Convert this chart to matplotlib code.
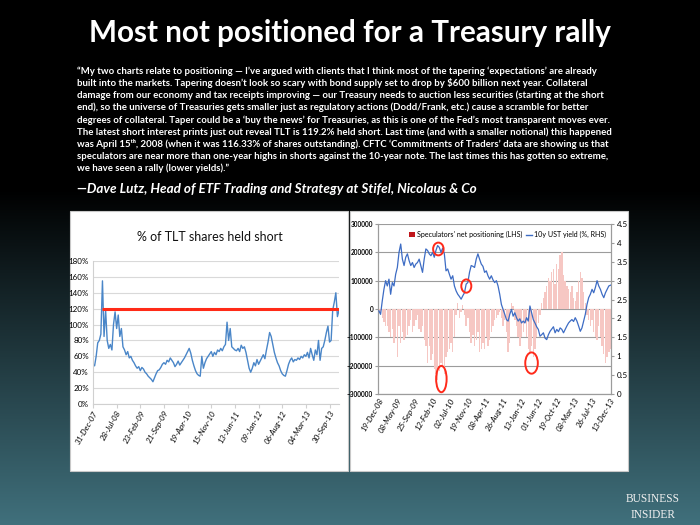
import numpy as np
import pandas as pd
import matplotlib
matplotlib.use("Agg")
import matplotlib.pyplot as plt
import matplotlib.dates as mdates
from matplotlib.patches import Rectangle, Ellipse, Patch
from matplotlib.lines import Line2D
from matplotlib.colors import LinearSegmentedColormap

# left chart: % of TLT shares held short (biweekly, from 31-Dec-07)
tlt_short = [50, 48, 60, 77, 80, 88, 155, 85, 118, 80, 70, 75, 68, 100, 116, 95, 112, 85, 95, 72,
             68, 62, 66, 58, 60, 55, 52, 48, 45, 47, 42, 46, 44, 40, 38, 35, 33, 31, 28, 33,
             38, 42, 43, 46, 50, 52, 50, 55, 53, 58, 55, 52, 47, 50, 54, 49, 52, 55, 58, 62,
             66, 70, 64, 55, 48, 42, 38, 36, 35, 60, 45, 52, 57, 60, 63, 66, 60, 65, 62, 68,
             66, 70, 67, 72, 75, 103, 80, 95, 72, 70, 68, 67, 70, 66, 74, 70, 72, 65, 55, 45,
             40, 45, 52, 48, 56, 50, 54, 58, 62, 57, 68, 78, 90, 85, 75, 65, 58, 52, 48, 42,
             38, 36, 35, 42, 50, 55, 58, 53, 56, 55, 58, 56, 60, 58, 62, 60, 65, 58, 70, 62,
             55, 68, 62, 80, 55, 70, 72, 80, 90, 98, 78, 80, 118, 128, 140, 110, 118]
tlt_level = 120
tlt_ticks = ["2007-12-31", "2008-07-28", "2009-02-23", "2009-09-21", "2010-04-19", "2010-11-15",
             "2011-06-13", "2012-01-09", "2012-08-06", "2013-03-04", "2013-09-30"]

# right chart: speculators' net positioning (LHS) and 10y UST yield (RHS)
positioning = [-10000, -20000, -30000, -45000, -60000, -60000, -80000, -100000, -70000, -120000,
               -100000, -170000, -60000, -120000, -80000, -110000, -100000, -90000, -60000, -40000,
               -80000, -60000, -40000, -20000, -70000, -80000, -60000, -110000, -130000, -190000,
               -130000, -180000, -160000, -210000, -230000, -250000, -220000, -190000, -200000, -230000,
               -170000, -150000, -140000, -120000, -150000, -100000, -20000, 20000, -30000, -10000,
               15000, -20000, -60000, -30000, -80000, -120000, -90000, -130000, -110000, -80000,
               -150000, -140000, -120000, -140000, -100000, -130000, -110000, -80000, -60000, -40000,
               -30000, -20000, -10000, -30000, -60000, -40000, -80000, -150000, -120000, 20000,
               10000, -40000, -60000, -100000, -130000, -100000, -80000, -50000, -100000, -140000,
               -150000, -130000, -170000, -140000, -100000, -50000, -20000, 20000, 40000, 60000,
               80000, 110000, 100000, 130000, 140000, 90000, 160000, 140000, 190000, 200000,
               120000, 100000, 80000, 70000, 60000, 80000, 40000, 30000, 60000, 100000,
               130000, 110000, 60000, 20000, -20000, -40000, -60000, -40000, -80000, -100000,
               -110000, -60000, -100000, -130000, -160000, -190000, -170000, -150000, -140000]
ust_yield = [2.20, 2.11, 2.46, 2.77, 3.00, 2.86, 3.04, 2.64, 2.95, 2.86, 3.17, 3.35, 3.75, 3.97, 3.57,
             3.40, 3.62, 3.71, 3.53, 3.40, 3.48, 3.35, 3.44, 3.48, 3.57, 3.40, 3.22, 3.57, 3.84, 3.80,
             3.71, 3.66, 3.75, 3.62, 3.80, 3.93, 3.88, 3.75, 3.86, 3.71, 3.26, 3.31, 3.17, 3.04, 3.13,
             2.86, 2.73, 2.64, 2.58, 2.51, 2.60, 2.68, 2.91, 2.95, 3.22, 3.40, 3.38, 3.35, 3.57, 3.71,
             3.57, 3.44, 3.38, 3.22, 3.26, 3.13, 3.04, 3.13, 3.02, 2.95, 3.00, 2.86, 2.64, 2.37, 2.24,
             2.11, 1.97, 1.93, 2.11, 2.24, 2.06, 2.15, 2.02, 1.93, 1.99, 1.88, 1.93, 1.88, 2.02, 1.93,
             2.33, 2.15, 1.97, 1.88, 1.78, 1.71, 1.53, 1.57, 1.62, 1.48, 1.44, 1.57, 1.66, 1.72, 1.78,
             1.62, 1.71, 1.65, 1.75, 1.71, 1.62, 1.71, 1.80, 1.88, 1.93, 1.97, 1.92, 2.02, 1.93, 1.80,
             1.66, 1.75, 1.93, 2.11, 2.37, 2.55, 2.64, 2.77, 2.68, 2.82, 3.00, 2.86, 2.77, 2.64, 2.55,
             2.68, 2.77, 2.86, 2.88]
cftc_ticks = ["2008-12-19", "2009-05-08", "2009-09-25", "2010-02-12", "2010-07-02", "2010-11-19",
              "2011-04-08", "2011-08-26", "2012-01-13", "2012-06-01", "2012-10-19", "2013-03-08",
              "2013-07-26", "2013-12-13"]

quote_lines = [
    "\u201cMy two charts relate to positioning \u2014 I\u2019ve argued with clients that I think most of the tapering \u2018expectations\u2019 are already",
    "built into the markets. Tapering doesn\u2019t look so scary with bond supply set to drop by $600 billion next year. Collateral",
    "damage from our economy and tax receipts improving \u2014 our Treasury needs to auction less securities (starting at the short",
    "end), so the universe of Treasuries gets smaller just as regulatory actions (Dodd/Frank, etc.) cause a scramble for better",
    "degrees of collateral. Taper could be a \u2018buy the news\u2019 for Treasuries, as this is one of the Fed\u2019s most transparent moves ever.",
    "The latest short interest prints just out reveal TLT is 119.2% held short. Last time (and with a smaller notional) this happened",
    "was April 15\u1d57\u02b0, 2008 (when it was 116.33% of shares outstanding). CFTC \u2018Commitments of Traders\u2019 data are showing us that",
    "speculators are near more than one-year highs in shorts against the 10-year note. The last times this has gotten so extreme,",
    "we have seen a rally (lower yields).\u201d",
]

txt = ["Lato", "DejaVu Sans"]

fig = plt.figure(figsize=(7, 5.25), dpi=100)

# slide background: black fading into teal
bg = fig.add_axes([0, 0, 1, 1], zorder=-10)
cmap = LinearSegmentedColormap.from_list("bg", [(0, "#000000"), (0.36, "#000000"), (1, "#40707c")])
bg.imshow(np.linspace(0, 1, 256).reshape(-1, 1), aspect="auto", cmap=cmap, extent=[0, 1, 0, 1])
bg.axis("off")

fig.text(0.5, 1 - 33 / 525, "Most not positioned for a Treasury rally", ha="center", va="center",
         color="white", fontsize=21.3, fontweight="bold", family=txt)
for i, line in enumerate(quote_lines):
    fig.text(77 / 700, 1 - (71 + 12.2 * i) / 525, line, va="center", color="white",
             fontsize=6.9, fontweight="bold", family=txt)
fig.text(77 / 700, 1 - 189 / 525, "\u2014Dave Lutz, Head of ETF Trading and Strategy at Stifel, Nicolaus & Co",
         va="center", color="white", fontsize=9.7, fontweight="bold", style="italic", family=txt)
fig.text(653 / 700, 1 - 499 / 525, "BUSINESS", ha="center", va="center", color="#f0f0f0",
         fontsize=8.3, family="Liberation Serif")
fig.text(653 / 700, 1 - 515 / 525, "INSIDER", ha="center", va="center", color="#f0f0f0",
         fontsize=8.3, family="Liberation Serif")

# white chart panels
for x0 in (70 / 700, 350 / 700):
    fig.add_artist(Rectangle((x0, 1 - 471 / 525), 278 / 700, 260 / 525, transform=fig.transFigure,
                             facecolor="white", edgecolor="#c8c8c8", lw=0.8, zorder=-5))

# ---- left chart
dates_l = pd.date_range("2007-12-31", periods=len(tlt_short), freq="14D")
ax1 = fig.add_axes([93 / 700, 1 - 404 / 525, 246 / 700, 143 / 525])
ax1.plot(dates_l, tlt_short, color="#4a86c8", lw=1)
ax1.hlines(tlt_level, dates_l[6], dates_l[-1], color="#ff2b18", lw=2.2, zorder=3)
ax1.set_ylim(0, 180)
ax1.set_yticks(range(0, 181, 20))
ax1.set_yticklabels([f"{v}%" for v in range(0, 181, 20)])
ax1.set_xlim(dates_l[0], dates_l[-1])
ax1.set_xticks(pd.to_datetime(tlt_ticks))
ax1.xaxis.set_major_formatter(mdates.DateFormatter("%d-%b-%y"))
ax1.grid(axis="y", color="#d9d9d9", lw=0.8)
ax1.set_axisbelow(True)
for s in ("top", "right"):
    ax1.spines[s].set_visible(False)
ax1.spines["left"].set_color("#d0d0d0")
ax1.spines["bottom"].set_color("#d0d0d0")
ax1.tick_params(axis="y", length=0, labelsize=5.8, pad=3)
ax1.tick_params(axis="x", length=3, color="#d0d0d0", labelsize=5.8, pad=1)
for lab in ax1.get_xticklabels() + ax1.get_yticklabels():
    lab.set_family(txt)
for lab in ax1.get_xticklabels():
    lab.set_rotation(60)
    lab.set_ha("right")
    lab.set_rotation_mode("anchor")
    lab.set_style("italic")
fig.text(210 / 700, 1 - 237 / 525, "% of TLT shares held short", ha="center", va="center",
         fontsize=9, family=txt, color="#111111")

# ---- right chart
dates_r = pd.date_range("2008-12-19", "2013-12-20", periods=len(ust_yield))
ax2 = fig.add_axes([378 / 700, 1 - 394 / 525, 233 / 700, 170 / 525])
ax2.bar(dates_r, positioning, width=11, color="#f6c7c3", edgecolor="none", zorder=2)
ax2.set_ylim(-300000, 300000)
ax2.set_yticks(range(-300000, 300001, 100000))
ax2.set_xlim(pd.Timestamp("2008-12-12"), pd.Timestamp("2013-12-24"))
ax2.set_xticks(pd.to_datetime(cftc_ticks))
ax2.xaxis.set_major_formatter(mdates.DateFormatter("%d-%b-%y"))
ax2.grid(axis="y", color="#9c9c9c", lw=0.8)
ax2.set_axisbelow(True)
ax2.spines["top"].set_visible(False)
for s in ("left", "right", "bottom"):
    ax2.spines[s].set_color("#9c9c9c")
ax2.tick_params(axis="y", length=2, color="#9c9c9c", labelsize=4.7, pad=1.5)
ax2.tick_params(axis="x", length=0, labelsize=5.8, pad=2)

ax3 = ax2.twinx()
ax3.plot(dates_r, ust_yield, color="#3d6cc4", lw=0.9, zorder=3)
ax3.set_ylim(0, 4.5)
ax3.set_yticks(np.arange(0, 4.51, 0.5))
ax3.set_yticklabels([f"{v:g}" for v in np.arange(0, 4.51, 0.5)])
ax3.spines["top"].set_visible(False)
for s in ("left", "right", "bottom"):
    ax3.spines[s].set_color("#9c9c9c")
ax3.tick_params(axis="y", length=2, color="#9c9c9c", labelsize=5.8, pad=2)
for lab in ax2.get_xticklabels() + ax2.get_yticklabels() + ax3.get_yticklabels():
    lab.set_family(txt)
for lab in ax2.get_yticklabels():
    lab.set_fontweight("bold")
for lab in ax2.get_xticklabels():
    lab.set_rotation(60)
    lab.set_ha("right")
    lab.set_rotation_mode("anchor")
    lab.set_style("italic")

handles = [Patch(facecolor="#c0161b"), Line2D([], [], color="#3d6cc4", lw=1)]
leg = ax3.legend(handles, ["Speculators' net positioning (LHS)", "10y UST yield (%, RHS)"],
                 loc="upper right", bbox_to_anchor=(0.99, 0.975), frameon=False, ncol=2,
                 handlelength=0.8, handleheight=0.8, handletextpad=0.25, columnspacing=0.6,
                 borderaxespad=0, prop={"family": txt, "size": 5.1})

# red circles highlighting turning points
for xf, yf, w, h in [(0.259, 0.853, 0.045, 0.075), (0.379, 0.635, 0.043, 0.078),
                     (0.272, 0.088, 0.045, 0.155), (0.659, 0.182, 0.054, 0.125)]:
    ax3.add_patch(Ellipse((xf, yf), w, h, transform=ax3.transAxes, fill=False,
                          edgecolor="#ff2a1a", lw=1.4, zorder=5))

fig.savefig("out.png", dpi=100)
